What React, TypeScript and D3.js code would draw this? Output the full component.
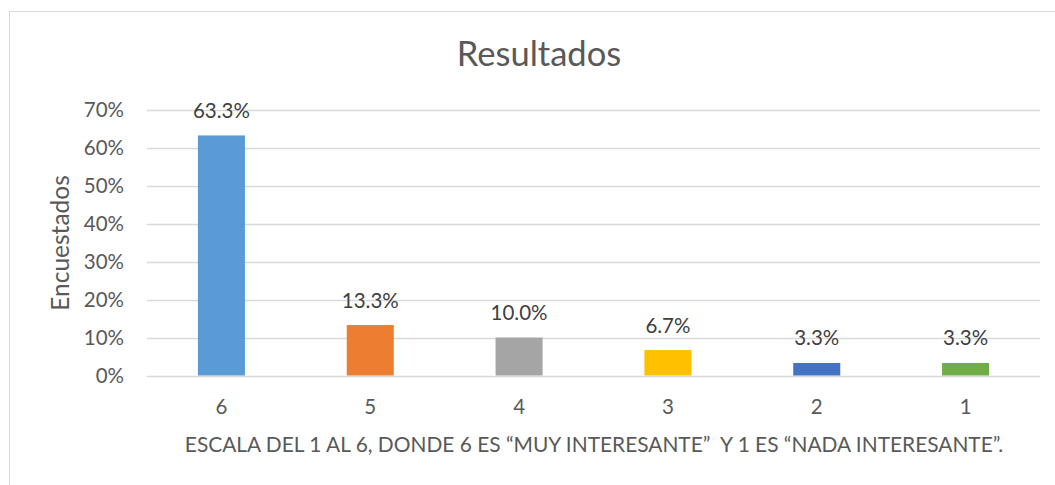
import React from "react";
import * as d3 from "d3";

const categories = ["6", "5", "4", "3", "2", "1"];
const values = [0.633, 0.133, 0.1, 0.067, 0.033, 0.033];
const valueLabels = ["63.3%", "13.3%", "10.0%", "6.7%", "3.3%", "3.3%"];
const colors = ["#5B9BD5", "#ED7D31", "#A5A5A5", "#FFC000", "#4472C4", "#70AD47"];
const yTicks = [0, 0.1, 0.2, 0.3, 0.4, 0.5, 0.6, 0.7];
const title = "Resultados";
const yTitle = "Encuestados";
const xTitle = "ESCALA DEL 1 AL 6, DONDE 6 ES \u201CMUY INTERESANTE\u201D  Y 1 ES \u201CNADA INTERESANTE\u201D.";

const W = 1055;
const H = 485;
const FONT = "Lato, 'Open Sans', sans-serif";

export default function App() {
  const x = d3.scaleBand<string>().domain(categories).range([147, 1040]).paddingInner(0.684).paddingOuter(0.342);
  const y = d3.scaleLinear().domain([0, 0.7]).range([375.5, 110]);
  const fmt = d3.format(".0%");
  return (
    <svg width={W} height={H} style={{ position: "absolute", left: 0, top: 0 }}>
      <rect x={0} y={0} width={W} height={H} fill="#fff" />
      <rect x={9.5} y={11.5} width={W + 20} height={H + 20} fill="#fff" stroke="#d9d9d9" strokeWidth={1} />
      <text x={539} y={66} textAnchor="middle" fontFamily={FONT} fontSize={34.5} fill="#595959">{title}</text>
      {yTicks.map((t) => (
        <g key={t}>
          <line x1={147} x2={1040} y1={Math.round(y(t)) + 0.5} y2={Math.round(y(t)) + 0.5} stroke="#d9d9d9" strokeWidth={1.5} />
          <text x={124} y={y(t)} dy="0.36em" textAnchor="end" fontFamily={FONT} fontSize={20.5} fill="#595959">{fmt(t)}</text>
        </g>
      ))}
      {categories.map((c, i) => (
        <g key={c}>
          <rect x={x(c)} y={y(values[i])} width={x.bandwidth()} height={y(0) - y(values[i])} fill={colors[i]} />
          <text x={(x(c) as number) + x.bandwidth() / 2} y={y(values[i]) - 17.5} textAnchor="middle" fontFamily={FONT} fontSize={20.5} fill="#404040">{valueLabels[i]}</text>
          <text x={(x(c) as number) + x.bandwidth() / 2} y={414} textAnchor="middle" fontFamily={FONT} fontSize={20.5} fill="#595959">{c}</text>
        </g>
      ))}
      <text x={594} y={452} textAnchor="middle" fontFamily={FONT} fontSize={20.9} fill="#595959" style={{ whiteSpace: "pre" }}>{xTitle}</text>
      <text transform="translate(69,243) rotate(-90)" textAnchor="middle" fontFamily={FONT} fontSize={24.5} fill="#595959">{yTitle}</text>
    </svg>
  );
}
